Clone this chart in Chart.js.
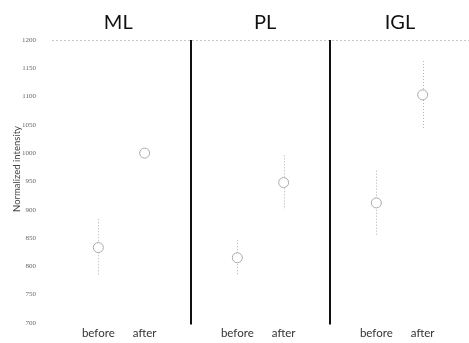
<!DOCTYPE html>
<html><head><meta charset="utf-8">
<script src="https://cdn.jsdelivr.net/npm/chart.js@4"></script>
<style>html,body{margin:0;padding:0;background:#fff}#wrap{width:469px;height:343px}</style>
</head><body><div id="wrap"><canvas id="c" width="469" height="343"></canvas></div>
<script>
const groups = ['ML', 'PL', 'IGL'];
const conditions = ['before', 'after'];
const means = [833, 1000, 815, 948, 912, 1103];
const errors = [50, 0, 31, 48, 57, 60];
const yTicks = [700, 750, 800, 850, 900, 950, 1000, 1050, 1100, 1150, 1200];
const yTitle = 'Normalized intensity';

// x positions: each group occupies 3 units, points at 1/3 and 2/3
const xPos = [];
groups.forEach((g, gi) => conditions.forEach((c, ci) => xPos.push(gi * 3 + 1 + ci)));
const points = means.map((m, i) => ({x: xPos[i], y: m}));
const titlePos = [1.43, 4.6, 7.51];

const errPlugin = {
  id: 'errbars',
  beforeDatasetsDraw(chart) {
    const ctx = chart.ctx, xs = chart.scales.x, ys = chart.scales.y;
    ctx.save();
    ctx.strokeStyle = '#b0b0b0'; ctx.lineWidth = 1; ctx.setLineDash([1, 2]);
    means.forEach((m, i) => {
      if (!errors[i]) return;
      const px = Math.round(xs.getPixelForValue(xPos[i])) + 0.5;
      ctx.beginPath(); ctx.moveTo(px, ys.getPixelForValue(m + errors[i])); ctx.lineTo(px, ys.getPixelForValue(m - errors[i])); ctx.stroke();
    });
    ctx.restore();
  },
  afterDatasetsDraw(chart) {
    const ctx = chart.ctx, xs = chart.scales.x, ys = chart.scales.y;
    ctx.save();
    ctx.strokeStyle = '#111'; ctx.lineWidth = 2;
    [3, 6].forEach(v => {
      const px = Math.round(xs.getPixelForValue(v));
      ctx.beginPath(); ctx.moveTo(px, ys.getPixelForValue(1200)); ctx.lineTo(px, ys.getPixelForValue(697)); ctx.stroke();
    });
    // y-axis title
    ctx.fillStyle = '#444';
    ctx.font = '9.5px Lato';
    ctx.textAlign = 'center'; ctx.textBaseline = 'middle';
    ctx.translate(17, ys.getPixelForValue(972));
    ctx.rotate(-Math.PI / 2);
    ctx.fillText(yTitle, 0, 0);
    ctx.restore();
  }
};

new Chart(document.getElementById('c'), {
  type: 'scatter',
  data: { datasets: [{ data: points, pointRadius: 5, pointBorderWidth: 1, pointBorderColor: '#aaa', pointBackgroundColor: '#fff' }] },
  options: {
    responsive: false, animation: false,
    layout: { autoPadding: false, padding: { left: 11, right: 0, top: 0, bottom: 0 } },
    plugins: { legend: { display: false }, tooltip: { enabled: false } },
    scales: {
      x: {
        type: 'linear', min: 0, max: 9,
        afterBuildTicks: s => { s.ticks = xPos.map(v => ({value: v})); },
        afterFit: s => { s.height = 18; },
        ticks: { autoSkip: false, maxRotation: 0, padding: 4, color: '#333', font: { family: 'Lato', size: 11.5 },
          callback: (v) => conditions[(xPos.indexOf(v)) % 2] },
        grid: { display: false, drawTicks: false }, border: { display: false }
      },
      x2: {
        type: 'linear', min: 0, max: 9, position: 'top',
        afterBuildTicks: s => { s.ticks = titlePos.map(v => ({value: v})); },
        afterFit: s => { s.height = 40; },
        ticks: { autoSkip: false, maxRotation: 0, padding: 5, color: '#111', font: { family: 'Lato', size: 20 },
          callback: (v) => groups[titlePos.indexOf(v)] },
        grid: { display: false, drawTicks: false }, border: { display: false }
      },
      y: {
        min: 700, max: 1200,
        afterBuildTicks: s => { s.ticks = yTicks.map(v => ({value: v})); },
        afterFit: s => { s.width = 41; },
        ticks: { padding: 16, color: '#666', font: { family: 'Liberation Serif', size: 7 }, callback: v => String(v) },
        grid: { drawTicks: false, color: c => c.tick && c.tick.value === 1200 ? '#c8c8c8' : 'transparent' },
        border: { display: false, dash: [2, 2] }
      }
    }
  },
  plugins: [errPlugin]
});
</script></body></html>
